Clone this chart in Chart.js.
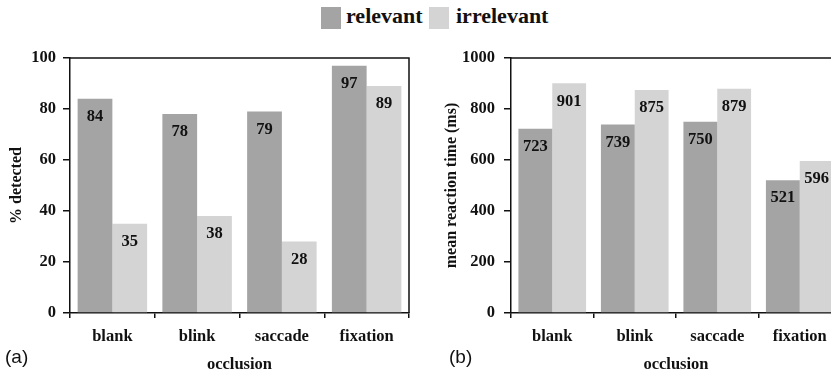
<!DOCTYPE html>
<html>
<head>
<meta charset="utf-8">
<script src="https://cdn.jsdelivr.net/npm/chart.js@4.4.1/dist/chart.umd.min.js"></script>
<style>
  html, body { margin: 0; padding: 0; background: #fff; overflow: hidden; }
  body { width: 831px; height: 378px; position: relative; }
  .panel { position: absolute; top: 0; }
  .legend { position: absolute; top: 0; left: 0; width: 831px; height: 40px; font: bold 22px "Liberation Serif", "Times New Roman", serif; color: #111; }
  .swatch { position: absolute; top: 7px; width: 20px; height: 22px; }
  .ltext { position: absolute; top: 3px; line-height: 26px; }
  .tag { position: absolute; font: 19px "Liberation Sans", Arial, sans-serif; color: #111; top: 346px; }
</style>
</head>
<body>
<div class="legend">
  <div class="swatch" id="sw1" style="left:321px"></div><div class="ltext" style="left:346px">relevant</div>
  <div class="swatch" id="sw2" style="left:429px"></div><div class="ltext" style="left:456px">irrelevant</div>
</div>
<div class="panel" style="left:0;width:420px;height:378px"><canvas id="detected" width="420" height="378"></canvas></div>
<div class="panel" style="left:420px;width:431px;height:378px"><canvas id="reaction" width="431" height="378"></canvas></div>
<div class="tag" style="left:5px">(a)</div>
<div class="tag" style="left:449px">(b)</div>
<script>
// occlusion conditions
const categories = ['blank', 'blink', 'saccade', 'fixation'];
const seriesNames = ['relevant', 'irrelevant'];

// % of changes detected
const detectedRelevant = [84, 78, 79, 97];
const detectedIrrelevant = [35, 38, 28, 89];

// mean reaction time in ms
const rtRelevant = [723, 739, 750, 521];
const rtIrrelevant = [901, 875, 879, 596];

const detectedTicks = { max: 100, step: 20 };
const rtTicks = { max: 1000, step: 200 };

const COLORS = ['#a4a4a4', '#d4d4d4'];
document.getElementById('sw1').style.background = COLORS[0];
document.getElementById('sw2').style.background = COLORS[1];

const SERIF = '"Liberation Serif", "Times New Roman", serif';
const INK = '#111';

// value written inside each bar, just below its top
const valueLabels = {
  id: 'valueLabels',
  afterDatasetsDraw(chart) {
    const ctx = chart.ctx;
    ctx.save();
    ctx.font = 'bold 16.5px ' + SERIF;
    ctx.fillStyle = INK;
    ctx.textAlign = 'center';
    ctx.textBaseline = 'middle';
    chart.data.datasets.forEach((ds, i) => {
      chart.getDatasetMeta(i).data.forEach((bar, j) => {
        ctx.fillText(String(ds.data[j]), bar.x, bar.y + 18);
      });
    });
    ctx.restore();
  }
};

// closes the plot box on the top and right sides
const frame = {
  id: 'frame',
  afterDraw(chart) {
    const a = chart.chartArea, ctx = chart.ctx;
    ctx.save();
    ctx.strokeStyle = INK;
    ctx.lineWidth = 1.5;
    ctx.beginPath();
    ctx.moveTo(a.left, a.top);
    ctx.lineTo(a.right, a.top);
    ctx.lineTo(a.right, a.bottom);
    ctx.stroke();
    ctx.restore();
  }
};

function makeChart(id, rel, irr, ticks, yTitle, axisWidth, rightPad, tickPad, titlePad) {
  return new Chart(document.getElementById(id), {
    type: 'bar',
    data: {
      labels: categories,
      datasets: [
        { label: seriesNames[0], data: rel, backgroundColor: COLORS[0], borderWidth: 0 },
        { label: seriesNames[1], data: irr, backgroundColor: COLORS[1], borderWidth: 0 }
      ]
    },
    options: {
      responsive: false,
      animation: false,
      devicePixelRatio: 1,
      categoryPercentage: 0.82,
      barPercentage: 1.0,
      layout: { padding: { top: 58, right: rightPad, bottom: 0, left: 0 } },
      plugins: { legend: { display: false }, tooltip: { enabled: false } },
      scales: {
        x: {
          offset: true,
          grid: { offset: true, drawOnChartArea: false, drawTicks: true, tickLength: 5, color: INK, lineWidth: 1.5 },
          border: { display: true, color: INK, width: 1.5 },
          ticks: { color: INK, padding: 9, font: { family: SERIF, size: 16.5, weight: 'bold' } },
          title: { display: true, text: 'occlusion', color: INK, padding: { top: 0, bottom: 3 }, font: { family: SERIF, size: 16.5, weight: 'bold' } },
          afterFit(scale) { scale.height = 65; }
        },
        y: {
          min: 0,
          max: ticks.max,
          grid: { drawOnChartArea: false, drawTicks: true, tickLength: 7, color: INK, lineWidth: 1.5 },
          border: { display: true, color: INK, width: 1.5 },
          ticks: {
            stepSize: ticks.step, color: INK, padding: tickPad,
            font: { family: SERIF, size: 16.5, weight: 'bold' },
            callback: (v) => String(v)
          },
          title: { display: true, text: yTitle, color: INK, padding: { top: titlePad, bottom: 0 }, font: { family: SERIF, size: 16, weight: 'bold' } },
          afterFit(scale) { scale.width = axisWidth; }
        }
      }
    },
    plugins: [valueLabels, frame]
  });
}

makeChart('detected', detectedRelevant, detectedIrrelevant, detectedTicks, '% detected', 70, 11, 7, 7);
makeChart('reaction', rtRelevant, rtIrrelevant, rtTicks, 'mean reaction time (ms)', 91, 10, 9, 22);
</script>
</body>
</html>
